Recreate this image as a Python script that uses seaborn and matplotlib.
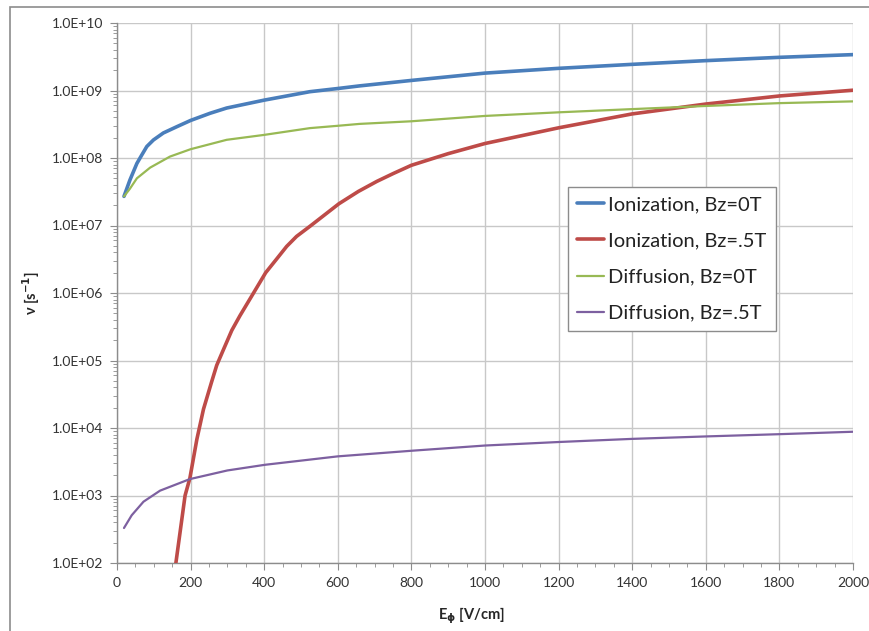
import matplotlib
matplotlib.use("Agg")
import matplotlib.pyplot as plt
import matplotlib.ticker as mticker
from matplotlib.patches import Rectangle
from matplotlib.lines import Line2D
import pandas as pd
import seaborn as sns

# Values
e_ion0 = [19, 35, 54, 67, 81, 99, 126, 162, 200, 253, 298, 400, 524, 600, 659, 800, 1000, 1200,
          1400, 1600, 1800, 2000]
ion_bz0 = [2.7e7, 4.7e7, 8.3e7, 1.1e8, 1.48e8, 1.85e8, 2.35e8, 2.9e8, 3.6e8, 4.6e8, 5.5e8, 7.2e8,
           9.6e8, 1.07e9, 1.17e9, 1.41e9, 1.81e9, 2.13e9, 2.44e9, 2.77e9, 3.1e9, 3.4e9]

e_ion5 = [160, 185, 198, 217, 235, 257, 271, 289, 312, 334, 371, 404, 434, 461, 488, 525, 603, 656,
          706, 751, 800, 900, 1000, 1200, 1400, 1600, 1800, 2000]
ion_bz5 = [1.0e2, 1.0e3, 1.8e3, 6.8e3, 1.9e4, 4.8e4, 8.5e4, 1.44e5, 2.8e5, 4.6e5, 1.0e6, 2.0e6,
           3.2e6, 4.9e6, 6.9e6, 9.8e6, 2.1e7, 3.2e7, 4.5e7, 5.9e7, 7.8e7, 1.16e8, 1.64e8, 2.8e8,
           4.5e8, 6.3e8, 8.3e8, 1.01e9]

e_diff0 = [19, 35, 54, 90, 144, 200, 298, 400, 524, 600, 659, 800, 1000, 1200, 1400, 1600, 1800, 2000]
diff_bz0 = [2.7e7, 3.5e7, 5.0e7, 7.2e7, 1.05e8, 1.35e8, 1.86e8, 2.2e8, 2.77e8, 3.0e8, 3.2e8, 3.5e8,
            4.2e8, 4.75e8, 5.3e8, 5.9e8, 6.5e8, 6.9e8]

e_diff5 = [19, 40, 72, 117, 198, 300, 402, 600, 800, 1000, 1200, 1400, 1600, 1800, 2000]
diff_bz5 = [3.3e2, 5.1e2, 8.1e2, 1.18e3, 1.75e3, 2.35e3, 2.85e3, 3.8e3, 4.6e3, 5.5e3, 6.2e3, 6.9e3,
            7.5e3, 8.1e3, 8.8e3]

labels = ["Ionization, Bz=0T", "Ionization, Bz=.5T", "Diffusion, Bz=0T", "Diffusion, Bz=.5T"]
colors = ["#4a7ebb", "#be4b48", "#98b954", "#7d60a0"]
widths = [2.6, 2.6, 1.6, 1.6]

frames = [
    pd.DataFrame({"E": e_ion0, "nu": ion_bz0, "series": labels[0]}),
    pd.DataFrame({"E": e_ion5, "nu": ion_bz5, "series": labels[1]}),
    pd.DataFrame({"E": e_diff0, "nu": diff_bz0, "series": labels[2]}),
    pd.DataFrame({"E": e_diff5, "nu": diff_bz5, "series": labels[3]}),
]

sns.set_style("white")
plt.rcParams["font.family"] = ["Lato", "DejaVu Sans"]

fig = plt.figure(figsize=(8.69, 6.31), dpi=100)
ax = fig.add_axes([117 / 869, 1 - 563 / 631, (853 - 117) / 869, (563 - 23) / 631])

# outer chart frame
fig.patches.append(Rectangle((10 / 869, -0.1), 1.2, 1 - 7 / 631 + 0.1, transform=fig.transFigure,
                             fill=False, edgecolor="#8c8c8c", linewidth=1.2))

for df, col, lw in zip(frames, colors, widths):
    sns.lineplot(data=df, x="E", y="nu", color=col, linewidth=lw, ax=ax, legend=False, zorder=3)

ax.set_yscale("log")
ax.set_xlim(0, 2000)
ax.set_ylim(1e2, 1e10)
ax.xaxis.set_major_locator(mticker.MultipleLocator(200))
ax.xaxis.set_minor_locator(mticker.MultipleLocator(50))
ax.yaxis.set_major_locator(mticker.LogLocator(base=10, numticks=20))
ax.yaxis.set_minor_locator(mticker.LogLocator(base=10, subs=range(2, 10), numticks=20))
ax.yaxis.set_minor_formatter(mticker.NullFormatter())
ax.yaxis.set_major_formatter(mticker.FuncFormatter(lambda v, p: f"{v:.1E}"))

ax.grid(True, which="major", color="#c8c8c8", linewidth=1.0)
ax.tick_params(axis="both", which="major", direction="out", length=5, color="#8c8c8c",
               labelsize=10, labelcolor="#333333", pad=5)
ax.tick_params(axis="both", which="minor", direction="out", length=3, color="#8c8c8c")
ax.tick_params(axis="x", which="both", bottom=True)
ax.tick_params(axis="y", which="both", left=True)

for side in ["top", "right"]:
    ax.spines[side].set_visible(False)
for side in ["left", "bottom"]:
    ax.spines[side].set_color("#8c8c8c")
    ax.spines[side].set_linewidth(1.0)

ax.set_xlabel(r"E$_\mathbf{\phi}$ [V/cm]", fontsize=10.5, fontweight="bold")
ax.set_ylabel(r"ν [s$^\mathbf{-1}$]", fontsize=10.5, fontweight="bold")
ax.xaxis.set_label_coords((471 - 117) / 736, -42 / 540)
ax.yaxis.set_label_coords(-(117 - 42) / 736, 0.5)

handles = [Line2D([0], [0], color=c, linewidth=w) for c, w in zip(colors, widths)]
leg = ax.legend(handles, labels, loc="upper left", bbox_to_anchor=((568 - 117) / 736, 1 - (187 - 23) / 540),
                fontsize=14.5, frameon=True, fancybox=False, edgecolor="#8c8c8c", framealpha=1,
                handlelength=1.35, handletextpad=0.2, labelspacing=0.95, borderpad=0.45,
                borderaxespad=0)
leg.get_frame().set_linewidth(1.0)
for t in leg.get_texts():
    t.set_color("#222222")

fig.savefig("out.png", dpi=100)
